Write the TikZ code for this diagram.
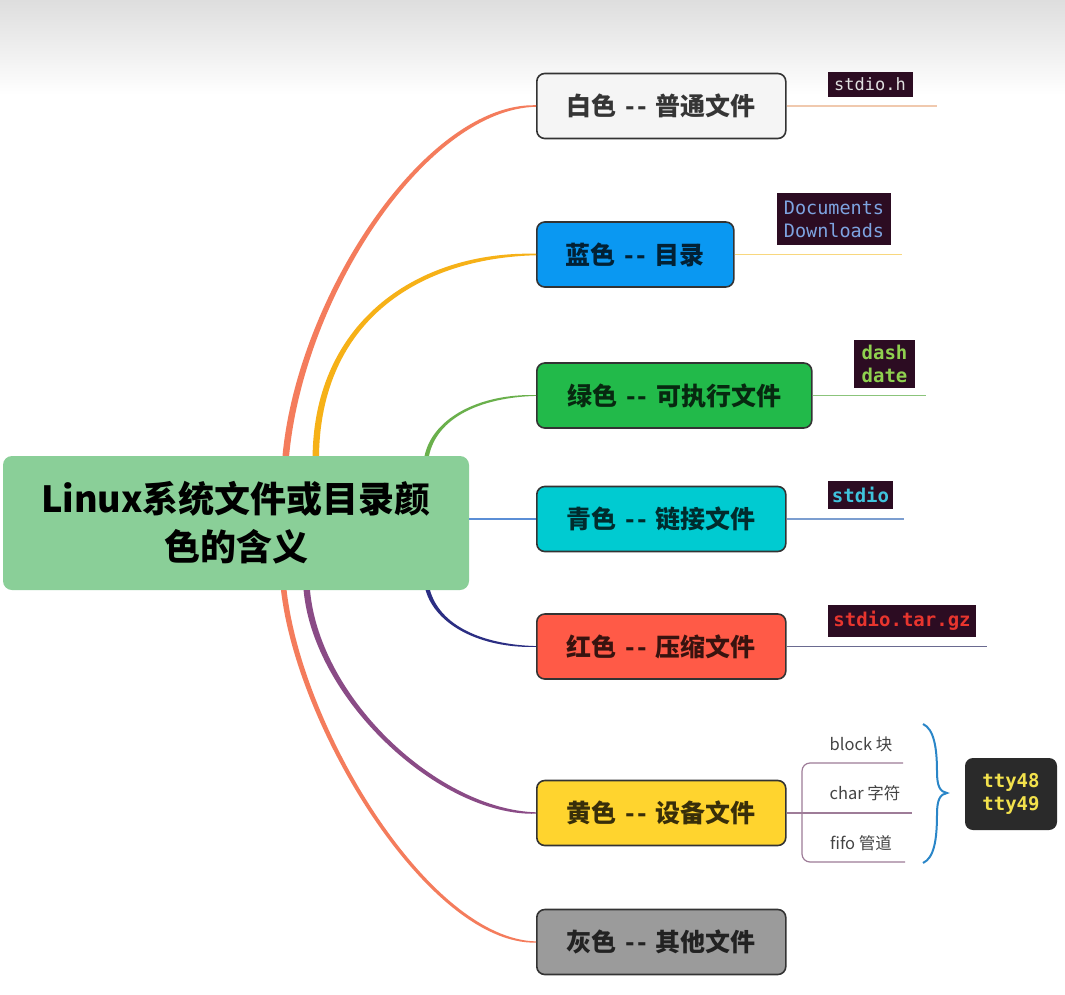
\documentclass[tikz,border=0pt]{standalone}
\usepackage{fontspec}
\setmainfont{Noto Sans CJK SC}
\newfontfamily\termfont{DejaVu Sans Mono}
\usepackage{xcolor}

\definecolor{rootgreen}{HTML}{8ACF98}
\definecolor{edgegray}{HTML}{333333}
\definecolor{fwhite}{HTML}{F5F5F5}
\definecolor{fblue}{HTML}{0A98F2}
\definecolor{fgreen}{HTML}{22BA4A}
\definecolor{fcyan}{HTML}{00CBD1}
\definecolor{fred}{HTML}{FF5A47}
\definecolor{fyellow}{HTML}{FFD42E}
\definecolor{fgray}{HTML}{9B9B9B}
\definecolor{salmon}{HTML}{F47C5C}
\definecolor{gold}{HTML}{F6B117}
\definecolor{leafgreen}{HTML}{6AB04C}
\definecolor{linkblue}{HTML}{5B8ED6}
\definecolor{navy}{HTML}{2B2E83}
\definecolor{plum}{HTML}{8A4B86}
\definecolor{peach}{HTML}{F0C9AE}
\definecolor{paleyellow}{HTML}{F8D77E}
\definecolor{palegreen}{HTML}{8BC47B}
\definecolor{paleblue}{HTML}{7C9ED0}
\definecolor{slate}{HTML}{6A6A90}
\definecolor{mauve}{HTML}{9E7C98}
\definecolor{termbg}{HTML}{2C0C22}
\definecolor{ttybg}{HTML}{2A2A2A}
\definecolor{bracecol}{HTML}{2A86C8}
\definecolor{labelgray}{HTML}{444444}

% two hyphens, kept apart so they do not become a dash
\newcommand{\DD}{\hspace{9pt}-\kern2pt-\hspace{9pt}}
% tapered branch: colour, start, target node, start control, end control, half width, bend side
\newcommand{\limb}[7]{%
  \fill[#1] ([xshift=-#6pt]#2) .. controls +(#4) and +(-#5,{-1*(#7)}) .. ([yshift={0.25pt*(#7)}]#3.west)
    -- ([yshift={-0.25pt*(#7)}]#3.west) .. controls +(-#5,{#7}) and +(#4) .. ([xshift=#6pt]#2) -- cycle;}

\begin{document}
\begin{tikzpicture}[x=1pt, y=-1pt,
    root/.style={rectangle, fill=rootgreen, rounded corners=9pt, minimum width=466pt, minimum height=134pt, align=center, font=\bfseries\fontsize{36}{48}\selectfont},
    branch/.style={rectangle, draw=edgegray, line width=1.6pt, rounded corners=8pt, minimum width=249pt, minimum height=65pt, anchor=west, text=black, text opacity=0.78, font=\bfseries\fontsize{25}{30}\selectfont},
    term/.style={rectangle, fill=termbg, inner sep=0pt, align=center, font=\termfont\bfseries\fontsize{19}{23.5}\selectfont},
    leaf/.style={line width=1.3pt},
    kind/.style={text=labelgray, font=\fontsize{16.5}{19}\selectfont},
    devline/.style={mauve, line width=1.2pt}
]
    \fill[white] (0,0) rectangle (1065,995);
    \shade[top color=black!13, bottom color=white] (0,0) rectangle (1065,95);
    \useasboundingbox (0,0) rectangle (1065,995);

    \node[root] (root) at (236,523) {Linux系统文件或目录颜\\色的含义};

    \node[branch, fill=fwhite] (wfile) at (536,106) {白色\DD 普通文件};
    \node[branch, fill=fblue, minimum width=197pt] (dir) at (536,254.5) {蓝色\DD 目录};
    \node[branch, fill=fgreen, minimum width=275pt] (exe) at (536,395.5) {绿色\DD 可执行文件};
    \node[branch, fill=fcyan] (lnk) at (536,519) {青色\DD 链接文件};
    \node[branch, fill=fred] (tgz) at (536,646.5) {红色\DD 压缩文件};
    \node[branch, fill=fyellow] (dev) at (536,813) {黄色\DD 设备文件};
    \node[branch, fill=fgray] (other) at (536,942) {灰色\DD 其他文件};

    % start points on the root box
    \coordinate (s1) at ([xshift=283pt]root.north west);
    \coordinate (s2) at ([xshift=313pt]root.north west);
    \coordinate (s3) at ([xshift=424pt]root.north west);
    \coordinate (s5) at ([xshift=425pt]root.south west);
    \coordinate (s6) at ([xshift=304pt]root.south west);
    \coordinate (s7) at ([xshift=281pt]root.south west);

    \limb{salmon}{s1}{wfile}{15,-160}{110}{3.3}{3}
    \limb{gold}{s2}{dir}{2,-136}{116}{3.2}{3}
    \limb{leafgreen}{s3}{exe}{8,-38}{56}{2.2}{1.6}
    \draw[linkblue, line width=1.8pt] (root.east |- lnk.west) -- (lnk.west);
    \limb{navy}{s5}{tgz}{10,35}{55}{2.2}{-1.6}
    \limb{plum}{s6}{dev}{10,110}{96}{3.2}{-2.8}
    \limb{salmon}{s7}{other}{16,140}{106}{2.8}{-2.5}

    % leaves
    \coordinate (e1) at ([xshift=150pt]wfile.east);
    \coordinate (e2) at ([xshift=167pt]dir.east);
    \coordinate (e3) at ([xshift=113pt]exe.east);
    \coordinate (e4) at ([xshift=117pt]lnk.east);
    \coordinate (e5) at ([xshift=200pt]tgz.east);
    \draw[leaf, peach] (wfile.east) -- (e1);
    \draw[leaf, paleyellow] (dir.east) -- (e2);
    \draw[leaf, palegreen] (exe.east) -- (e3);
    \draw[leaf, paleblue] (lnk.east) -- (e4);
    \draw[leaf, slate] (tgz.east) -- (e5);

    \node[term, text=white!88!black, minimum width=85pt, minimum height=25pt, font=\termfont\fontsize{17}{20}\selectfont] (hfile) at (870,84.5) {stdio.h};
    \node[term, text={rgb,255:red,125;green,163;blue,224}, minimum width=114pt, minimum height=52pt, font=\termfont\fontsize{18.5}{23}\selectfont] (dirs) at (834,219) {Documents\\Downloads};
    \node[term, text={rgb,255:red,143;green,209;blue,79}, minimum width=61pt, minimum height=48pt] (bins) at (884.5,364) {dash\\date};
    \node[term, text={rgb,255:red,63;green,195;blue,220}, minimum width=65pt, minimum height=28pt] (link) at (860.5,495) {stdio};
    \node[term, text={rgb,255:red,232;green,53;blue,46}, minimum width=148pt, minimum height=32pt] (arch) at (902,621) {stdio.tar.gz};

    % device kinds
    \coordinate (fork) at (802,813);
    \coordinate (blk) at (903,763);
    \coordinate (chr) at (912,813);
    \coordinate (ffo) at (905,862);
    \draw[devline] (dev.east) -- (chr);
    \draw[devline, rounded corners=8pt] (blk) -| (fork) |- (ffo);
    \node[kind] (blocklab) at (861,744) {block 块};
    \node[kind] (charlab) at (865,793) {char 字符};
    \node[kind] (fifolab) at (861,843) {fifo 管道};

    \draw[bracecol, line width=2pt] (923,724) .. controls (934,729) and (937,748) .. (937,772)
        .. controls (937,786) and (940,792) .. (947,793)
        .. controls (940,794) and (937,800) .. (937,814)
        .. controls (937,840) and (934,858) .. (923,863);
    \node[term, fill=ttybg, rounded corners=8pt, text={rgb,255:red,242;green,225;blue,76}, minimum width=92pt, minimum height=72pt] (tty) at (1011,794) {tty48\\tty49};
\end{tikzpicture}
\end{document}
